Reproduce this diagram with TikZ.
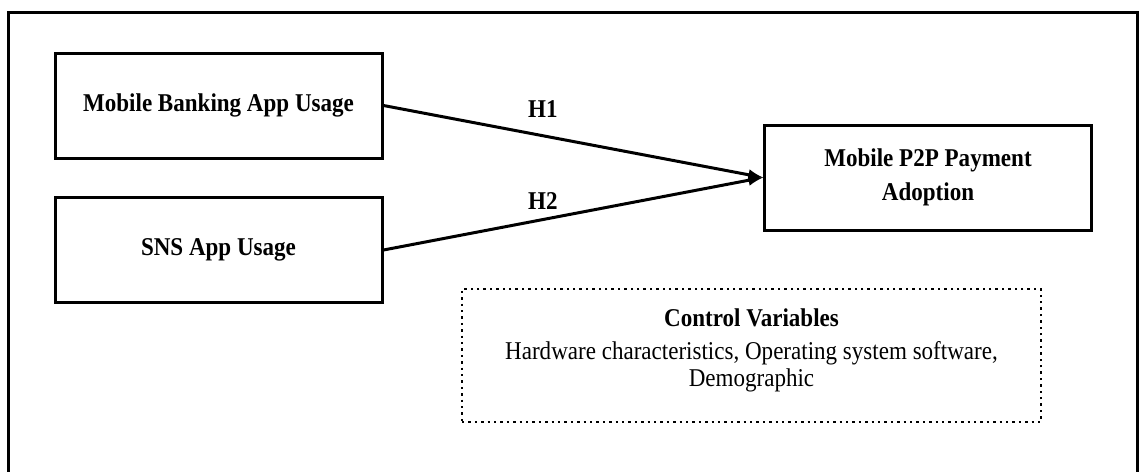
\documentclass[tikz,border=0pt]{standalone}
\usepackage{fontspec}
\setmainfont{Liberation Serif}[FakeStretch=0.9]
\usetikzlibrary{arrows.meta}

\begin{document}
\begin{tikzpicture}[>=latex, x=0.5pt, y=-0.5pt,
    every node/.style={font=\fontsize{12.8}{15.3}\selectfont},
    varbox/.style={draw, line width=1.5pt, minimum width=163.5pt, minimum height=52.5pt, align=center, font=\fontsize{12.8}{15.3}\selectfont\bfseries},
    ctrlbox/.style={draw, dotted, line width=1.2pt, minimum width=289.5pt, minimum height=66.5pt},
    hyp/.style={anchor=base, font=\fontsize{12.8}{15.3}\selectfont\bfseries}]
    % --- Canvas ---
    \useasboundingbox (0,0) rectangle (1139,471);
    \draw[line width=1.5pt] (8,480) -- (8,12) -- (1137,12) -- (1137,480);

    % --- Variables ---
    \node[varbox] (bank) at (218.5,105.5) {Mobile Banking App Usage};
    \node[varbox] (sns) at (218.5,250) {SNS App Usage};
    \node[varbox] (p2p) at (928,177.5) {Mobile P2P Payment\\[2pt]Adoption};

    % --- Hypotheses ---
    \draw[->, line width=1.5pt] (bank.east) -- (p2p.west) node[hyp, pos=0.42, yshift=9pt] {H1};
    \draw[->, line width=1.5pt] (sns.east) -- (p2p.west) node[hyp, pos=0.42, yshift=5pt] {H2};

    % --- Controls ---
    \node[ctrlbox] (ctrl) at (751.5,355.5) {};
    \node[anchor=base, font=\fontsize{12.8}{15.3}\selectfont\bfseries] (ctitle) at (751.5,326) {Control Variables};
    \node[anchor=base] (cline1) at (751.5,359) {Hardware characteristics, Operating system software,};
    \node[anchor=base] (cline2) at (751.5,386) {Demographic};
\end{tikzpicture}
\end{document}
